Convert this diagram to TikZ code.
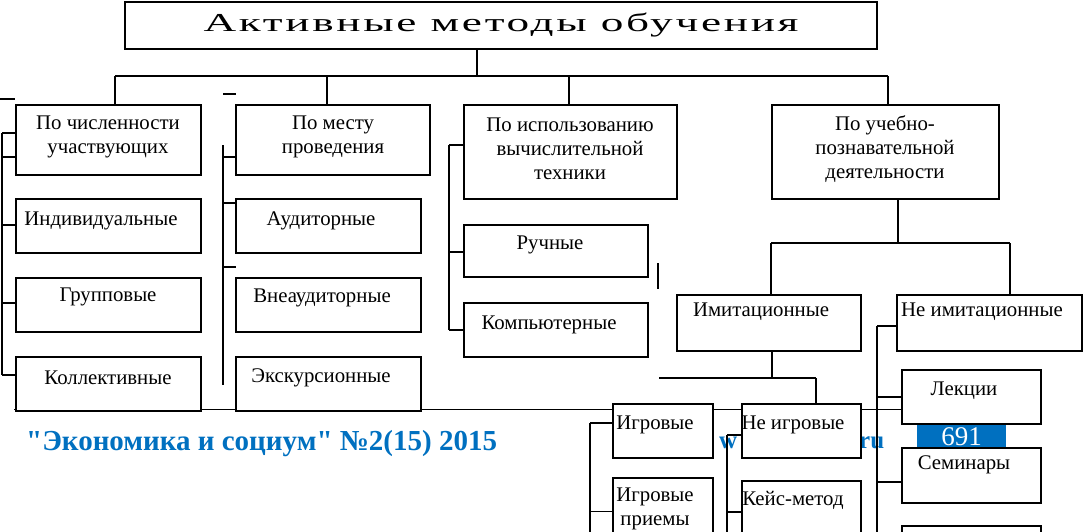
\documentclass[tikz,border=0pt]{standalone}
\usepackage{fontspec}
\setmainfont{Liberation Serif}
\newfontfamily\ttlfont[LetterSpace=6]{Liberation Serif}
\newfontfamily\ftrfont[Ligatures=TeXOff]{Liberation Serif}
\usepackage{tikz}
\usetikzlibrary{fit}
\definecolor{iupr}{RGB}{0,112,192}
\tikzset{
box/.style = {draw, fill=white, line width=1.6pt,
              inner sep=0pt, outer sep=0pt},
txt/.style = {font=\fontsize{20.8}{24}\selectfont, align=center, inner sep=0pt},
link/.style = {line width=1.4pt},
ftr/.style = {text=iupr, font=\ftrfont\bfseries\fontsize{29}{30}\selectfont,
              inner sep=0pt, anchor=base west}
}
\newcommand{\blk}[3]{\node[box, fit={(#2) (#3)}] (#1) {};}
\newcommand{\lab}[3]{\node[txt] (t#1) at (#2) {#3};}
\newcommand{\edge}[2]{\draw[link] (#1) -- (#2);}
\newcommand{\tick}[3]{\draw[link] ([yshift=#3]#2.west -| #1) -- ([yshift=#3]#2.west);}

\begin{document}
\begin{tikzpicture}[x=1pt, y=-1pt]
    \useasboundingbox (0,0) rectangle (1083,532);
    \clip (0,0) rectangle (1083,532);

    % page footer behind the scheme
    \draw[line width=0.8pt] (14,409) -- (902,409);
    \node[ftr] (jrn) at (26,450) {"Экономика и социум" №2(15) 2015};
    \node[ftr, font=\ftrfont\bfseries\fontsize{25}{26}\selectfont] (webw) at (719,448) {w};
    \node[ftr, font=\ftrfont\bfseries\fontsize{25}{26}\selectfont] (webr) at (859,448) {ru};
    \node[fill=iupr, text=white, font=\fontsize{27}{27}\selectfont,
          minimum width=89pt, minimum height=34pt, inner sep=0pt] (page) at (961.5,437) {691};

    \blk{title}{125,2}{877,49};
    \blk{pA}{16,105}{201,175};
    \blk{pB}{236,105}{430,175};
    \blk{pC}{464,105}{677,199};
    \blk{pD}{772,105}{999,199};

    \blk{ind}{16,199}{201,253};
    \blk{grp}{16,278}{201,332};
    \blk{col}{16,357}{201,411};
    \blk{aud}{236,199}{421,253};
    \blk{vne}{236,278}{421,332};
    \blk{exc}{236,357}{421,411};
    \blk{man}{464,225}{648,277};
    \blk{cmp}{464,303}{648,357};

    \blk{imi}{677,295}{861,351};
    \blk{nim}{897,295}{1082,351};
    \blk{igr}{613,404}{713,458};
    \blk{nig}{742,404}{861,458};
    \blk{igp}{613,478}{713,545};
    \blk{kei}{742,481}{861,545};
    \blk{lec}{902,370}{1041,424};
    \blk{sem}{902,448}{1041,503};
    \blk{nxt}{902,526}{1041,545};

    % upper level
    \coordinate (tr) at (477,76);
    \coordinate (bA) at (115,76);
    \coordinate (bB) at (327,76);
    \coordinate (bC) at (569,76);
    \coordinate (bD) at (888,76);
    \edge{title.south -| tr}{tr}
    \edge{bA}{bD}
    \edge{bA}{bA |- pA.north}
    \edge{bB}{bB |- pB.north}
    \edge{bC}{bC |- pC.north}
    \edge{bD}{bD |- pD.north}

    % left columns
    \coordinate (sA) at (2,133);
    \coordinate (sAe) at (2,375);
    \edge{sA}{sAe}
    \tick{sA}{pA}{7pt}
    \tick{sA}{pA}{-17pt}
    \tick{sA}{ind}{1pt}
    \tick{sA}{grp}{2pt}
    \tick{sA}{col}{9pt}
    \draw[link] (0,99) -- (15,99);

    \coordinate (sB) at (223,145);
    \coordinate (sBe) at (223,385);
    \edge{sB}{sBe}
    \tick{sB}{pB}{-17pt}
    \tick{sB}{aud}{23pt}
    \tick{sB}{vne}{38pt}
    \draw[link] (223,94) -- (236,94);

    \coordinate (sC) at (449,145);
    \coordinate (sCe) at (449,330);
    \edge{sC}{sCe}
    \tick{sC}{pC}{7pt}
    \tick{sC}{man}{-1pt}
    \tick{sC}{cmp}{0pt}
    \draw[link] (658,263) -- (658,289);

    % right part
    \coordinate (dD) at (898,243);
    \coordinate (dI) at (771,243);
    \coordinate (dN) at (1010,243);
    \edge{pD.south -| dD}{dD}
    \edge{dI}{dN}
    \edge{dI}{dI |- imi.north}
    \edge{dN}{dN |- nim.north}

    \coordinate (dG) at (772,378);
    \coordinate (gL) at (659,378);
    \coordinate (gR) at (816,378);
    \edge{imi.south -| dG}{dG}
    \edge{gL}{gR}
    \edge{gR}{gR |- nig.north}

    \coordinate (sN) at (877,326);
    \coordinate (sNe) at (877,545);
    \edge{sN}{sNe}
    \tick{sN}{nim}{-3pt}
    \tick{sN}{lec}{0pt}
    \tick{sN}{sem}{-6.5pt}

    \coordinate (sG) at (590,423);
    \coordinate (sGe) at (590,545);
    \edge{sG}{sGe}
    \tick{sG}{igr}{8pt}
    \tick{sG}{igp}{0pt}

    \coordinate (sK) at (727,435);
    \coordinate (sKe) at (727,545);
    \edge{sK}{sKe}
    \tick{sK}{nig}{-4pt}
    \tick{sK}{kei}{1pt}

    % texts
    \node[inner sep=0pt] (ttl) at (501,25) {\resizebox{595pt}{18.5pt}{\ttlfont Активные методы обучения}};
    \lab{pA}{108,137}{По численности\\участвующих}
    \lab{pB}{333,137}{По месту\\проведения}
    \lab{pC}{570,149}{По использованию\\вычислительной\\техники}
    \lab{pD}{885,149}{По учебно-\\познавательной\\деятельности}
    \lab{ind}{101,221}{Индивидуальные}
    \lab{grp}{108,297}{Групповые}
    \lab{col}{108,378}{Коллективные}
    \lab{aud}{321,221}{Аудиторные}
    \lab{vne}{322,298}{Внеаудиторные}
    \lab{exc}{321,378}{Экскурсионные}
    \lab{man}{550,245}{Ручные}
    \lab{cmp}{549,325}{Компьютерные}
    \lab{imi}{761,312}{Имитационные}
    \lab{nim}{982,312}{Не имитационные}
    \lab{igr}{655,425}{Игровые}
    \lab{nig}{793,425}{Не игровые}
    \lab{igp}{655,509}{Игровые\\приемы}
    \lab{kei}{793,500}{Кейс-метод}
    \lab{lec}{964,391}{Лекции}
    \lab{sem}{964,465}{Семинары}
\end{tikzpicture}
\end{document}
